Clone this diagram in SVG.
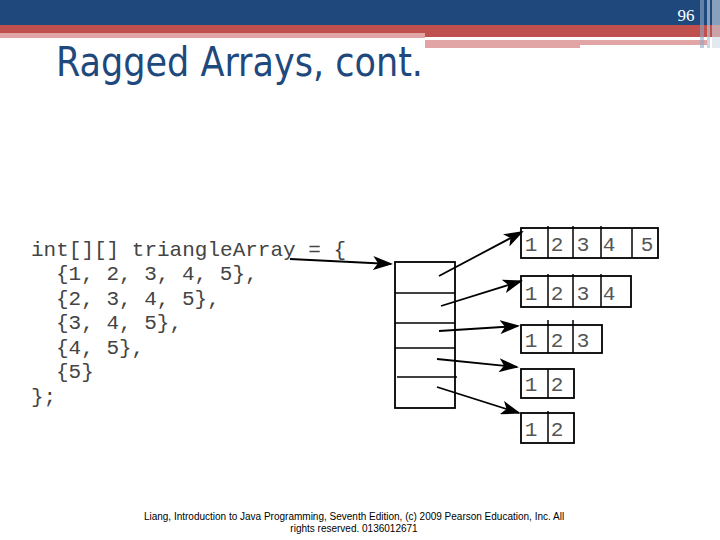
<svg xmlns="http://www.w3.org/2000/svg" width="720" height="540" viewBox="0 0 720 540">
<style>
.code{font-family:"Liberation Mono","Courier New",monospace;font-size:21px;fill:#444}
.box{fill:none;stroke:#000;stroke-width:1.8}
.ln{stroke:#000;stroke-width:1.5;fill:none}
.arr{stroke:#000;stroke-width:1.8;fill:none;marker-end:url(#ah)}
.dig{font-family:"Liberation Mono","Courier New",monospace;font-size:21px;fill:#555}
.foot{font-family:"Liberation Sans",Arial,sans-serif;font-size:10px;fill:#000}
</style>
<defs>
<marker id="ah" viewBox="0 0 20 14" refX="18" refY="7" markerWidth="20" markerHeight="14" markerUnits="userSpaceOnUse" orient="auto">
<path d="M0,0 L20,7 L0,14 L5,7 Z" fill="#000"/>
</marker>
</defs>
<rect width="720" height="540" fill="#fff"/>
<g id="header">
<rect x="0" y="0" width="720" height="25" fill="#1f497d"/>
<rect x="0" y="25" width="720" height="8" fill="#c0504d"/>
<rect x="425" y="25" width="295" height="12" fill="#c0504d"/>
<rect x="0" y="33" width="425" height="5" fill="#e0a5a4"/>
<rect x="425" y="40" width="155" height="8" fill="#e0a5a4"/>
<rect x="580" y="40" width="127" height="5" fill="#e0a5a4"/>
<rect x="700" y="0" width="4" height="48" fill="#8fa6c4" opacity="0.6"/>
<rect x="707" y="0" width="3" height="48" fill="#b7c5d8" opacity="0.7"/>
<rect x="712" y="0" width="8" height="48" fill="#d0dae6" opacity="0.6"/>
<text x="686" y="21" text-anchor="middle" font-family="Liberation Serif,serif" font-size="17" fill="#fff">96</text>
</g>
<g id="title">
<text x="56" y="76" font-family="DejaVu Sans Condensed,DejaVu Sans,sans-serif" font-size="41" fill="#1f497d" textLength="367" lengthAdjust="spacingAndGlyphs">Ragged Arrays, cont.</text>
</g>
<g id="code">
<text class="code" x="31" y="256">int[][] triangleArray = {</text>
<text class="code" x="56" y="280">{1, 2, 3, 4, 5},</text>
<text class="code" x="56" y="305">{2, 3, 4, 5},</text>
<text class="code" x="56" y="329">{3, 4, 5},</text>
<text class="code" x="56" y="354">{4, 5},</text>
<text class="code" x="56" y="378">{5}</text>
<text class="code" x="31" y="403">};</text>
</g>
<g id="pointerArray">
<rect class="box" x="395" y="262" width="60" height="146"/>
<line class="ln" x1="395" y1="293" x2="455" y2="293"/>
<line class="ln" x1="395" y1="323" x2="455" y2="323"/>
<line class="ln" x1="395" y1="348" x2="455" y2="348"/>
<line class="ln" x1="397" y1="377" x2="457" y2="377"/>
</g>
<g id="row1">
<rect class="box" x="521" y="228" width="137" height="30"/>
<line class="ln" x1="548" y1="226" x2="548" y2="258"/>
<line class="ln" x1="573" y1="226" x2="573" y2="258"/>
<line class="ln" x1="601" y1="226" x2="601" y2="258"/>
<line class="ln" x1="632" y1="228" x2="632" y2="258"/>
<text class="dig" x="531" y="251" text-anchor="middle">1</text>
<text class="dig" x="557" y="251" text-anchor="middle">2</text>
<text class="dig" x="583" y="251" text-anchor="middle">3</text>
<text class="dig" x="609" y="251" text-anchor="middle">4</text>
<text class="dig" x="647" y="251" text-anchor="middle">5</text>
</g>
<g id="row2">
<rect class="box" x="521" y="276" width="110" height="31"/>
<line class="ln" x1="548" y1="274" x2="548" y2="307"/>
<line class="ln" x1="573" y1="274" x2="573" y2="307"/>
<line class="ln" x1="601" y1="274" x2="601" y2="307"/>
<text class="dig" x="531" y="300" text-anchor="middle">1</text>
<text class="dig" x="557" y="300" text-anchor="middle">2</text>
<text class="dig" x="583" y="300" text-anchor="middle">3</text>
<text class="dig" x="609" y="300" text-anchor="middle">4</text>
</g>
<g id="row3">
<rect class="box" x="521" y="325" width="81" height="28"/>
<line class="ln" x1="548" y1="320" x2="548" y2="353"/>
<line class="ln" x1="573" y1="320" x2="573" y2="353"/>
<text class="dig" x="531" y="347" text-anchor="middle">1</text>
<text class="dig" x="557" y="347" text-anchor="middle">2</text>
<text class="dig" x="583" y="347" text-anchor="middle">3</text>
</g>
<g id="row4">
<rect class="box" x="521" y="369" width="53" height="29"/>
<line class="ln" x1="548" y1="369" x2="548" y2="398"/>
<text class="dig" x="531" y="391" text-anchor="middle">1</text>
<text class="dig" x="557" y="391" text-anchor="middle">2</text>
</g>
<g id="row5">
<rect class="box" x="521" y="413" width="53" height="30"/>
<line class="ln" x1="548" y1="411" x2="548" y2="443"/>
<text class="dig" x="531" y="436" text-anchor="middle">1</text>
<text class="dig" x="557" y="436" text-anchor="middle">2</text>
</g>
<g id="connectors">
<path class="arr" d="M290,259 L391,264"/>
<path class="arr" d="M439,276 L522,232"/>
<path class="arr" d="M441,306 L521,281"/>
<path class="arr" d="M439,331 L518,326"/>
<path class="arr" d="M437,359 L517,367"/>
<path class="arr" d="M437,387 L519,413"/>
</g>
<g id="footer">
<text class="foot" x="354" y="520" text-anchor="middle">Liang, Introduction to Java Programming, Seventh Edition, (c) 2009 Pearson Education, Inc. All</text>
<text class="foot" x="354" y="532" text-anchor="middle">rights reserved. 0136012671</text>
</g>
</svg>
